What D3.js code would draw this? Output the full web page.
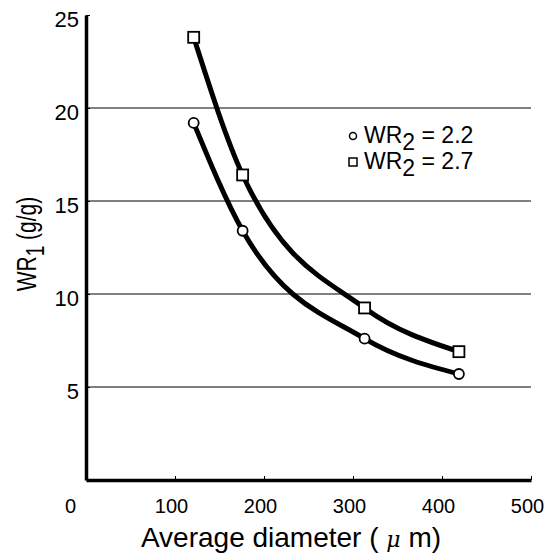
<!DOCTYPE html>
<html>
<head>
<meta charset="utf-8">
<script src="https://cdn.jsdelivr.net/npm/d3@7"></script>
<style>
  body { margin: 0; background: #fff; }
  text { font-family: "Liberation Sans", Arial, sans-serif; fill: #000; }
</style>
</head>
<body>
<script>
// values
const diameters = [121, 176, 313, 419];
const wr22 = [19.2, 13.4, 7.6, 5.7];   // WR2 = 2.2, circles
const wr27 = [23.8, 16.4, 9.25, 6.9];  // WR2 = 2.7, squares
const xTicks = [0, 100, 200, 300, 400, 500];
const yTicks = [5, 10, 15, 20, 25];
const gridValues = [5, 10, 15, 20];

const width = 548, height = 553;

const x = d3.scaleLinear().domain([0, 500]).range([86, 531]);
const y = d3.scaleLinear().domain([0, 25]).range([480, 15]);

const svg = d3.select('body')
    .append('svg')
    .attr('width', width)
    .attr('height', height);

// grid lines
svg.selectAll('line.grid')
    .data(gridValues)
    .enter()
    .append('line')
    .attr('x1', x(0))
    .attr('x2', x(500))
    .attr('y1', d => y(d))
    .attr('y2', d => y(d))
    .attr('stroke', '#000')
    .attr('stroke-width', 1);

// axes
const xAxis = svg.append('g')
    .attr('transform', `translate(0,${y(0)})`)
    .call(d3.axisBottom(x).tickValues(xTicks).tickSize(-4).tickPadding(19).tickSizeOuter(0));
xAxis.attr('font-size', 20).attr('font-family', '"Liberation Sans", Arial, sans-serif');
xAxis.select('.domain').attr('stroke-width', 3.5);
xAxis.selectAll('.tick text').attr('dx', -4);
xAxis.selectAll('.tick').filter(d => d === 0).select('text').attr('dx', -16);
xAxis.selectAll('.tick line').attr('stroke-width', 1);

const yAxis = svg.append('g')
    .attr('transform', `translate(${x(0)},0)`)
    .call(d3.axisLeft(y).tickValues(yTicks).tickSize(-4).tickPadding(7).tickSizeOuter(0));
yAxis.attr('font-size', 22).attr('font-family', '"Liberation Sans", Arial, sans-serif');
yAxis.select('.domain').attr('stroke-width', 3.5);
yAxis.selectAll('.tick text').attr('dy', '0.5em');
yAxis.selectAll('.tick line').attr('stroke-width', 1);

// curves
const line = d3.line()
    .x((d, i) => x(diameters[i]))
    .y(d => y(d))
    .curve(d3.curveMonotoneX);

[wr22, wr27].forEach(series => {
    svg.append('path')
        .attr('d', line(series))
        .attr('fill', 'none')
        .attr('stroke', '#000')
        .attr('stroke-width', 5);
});

// markers
svg.selectAll('circle.m')
    .data(wr22)
    .enter()
    .append('circle')
    .attr('cx', (d, i) => x(diameters[i]))
    .attr('cy', d => y(d))
    .attr('r', 5)
    .attr('fill', '#fff')
    .attr('stroke', '#000')
    .attr('stroke-width', 1.8);

svg.selectAll('rect.m')
    .data(wr27)
    .enter()
    .append('rect')
    .attr('x', (d, i) => x(diameters[i]) - 5.5)
    .attr('y', d => y(d) - 5.5)
    .attr('width', 11)
    .attr('height', 11)
    .attr('fill', '#fff')
    .attr('stroke', '#000')
    .attr('stroke-width', 1.8);

// legend
const legend = svg.append('g').attr('transform', 'translate(353,136)');
legend.append('circle')
    .attr('cx', 0).attr('cy', 0).attr('r', 3.5)
    .attr('fill', '#fff').attr('stroke', '#000').attr('stroke-width', 1.5);
legend.append('rect')
    .attr('x', -4).attr('y', 22).attr('width', 8).attr('height', 8)
    .attr('fill', '#fff').attr('stroke', '#000').attr('stroke-width', 1.5);

const legendText = ['2.2', '2.7'];
legendText.forEach((v, i) => {
    const t = legend.append('text')
        .attr('x', 11)
        .attr('y', 7 + i * 26)
        .attr('font-size', 23);
    t.append('tspan').text('WR');
    t.append('tspan').attr('dy', 7).text('2');
    t.append('tspan').attr('dy', -7).text(' = ' + v);
});

// axis titles
const yt = svg.append('text')
    .attr('transform', 'translate(36,244) rotate(-90) scale(1,1.35)')
    .attr('text-anchor', 'middle')
    .attr('font-size', 21);
yt.append('tspan').text('WR');
yt.append('tspan').attr('dy', 6).attr('font-size', 19).text('1');
yt.append('tspan').attr('dy', -6).text(' (g/g)');

const xt = svg.append('text')
    .attr('x', 291)
    .attr('y', 547)
    .attr('text-anchor', 'middle')
    .attr('font-size', 28);
xt.append('tspan').text('Average diameter ( ');
xt.append('tspan').attr('font-style', 'italic').attr('font-family', '"DejaVu Serif", serif').attr('font-size', 22).text('μ');
xt.append('tspan').text(' m)');
</script>
</body>
</html>
